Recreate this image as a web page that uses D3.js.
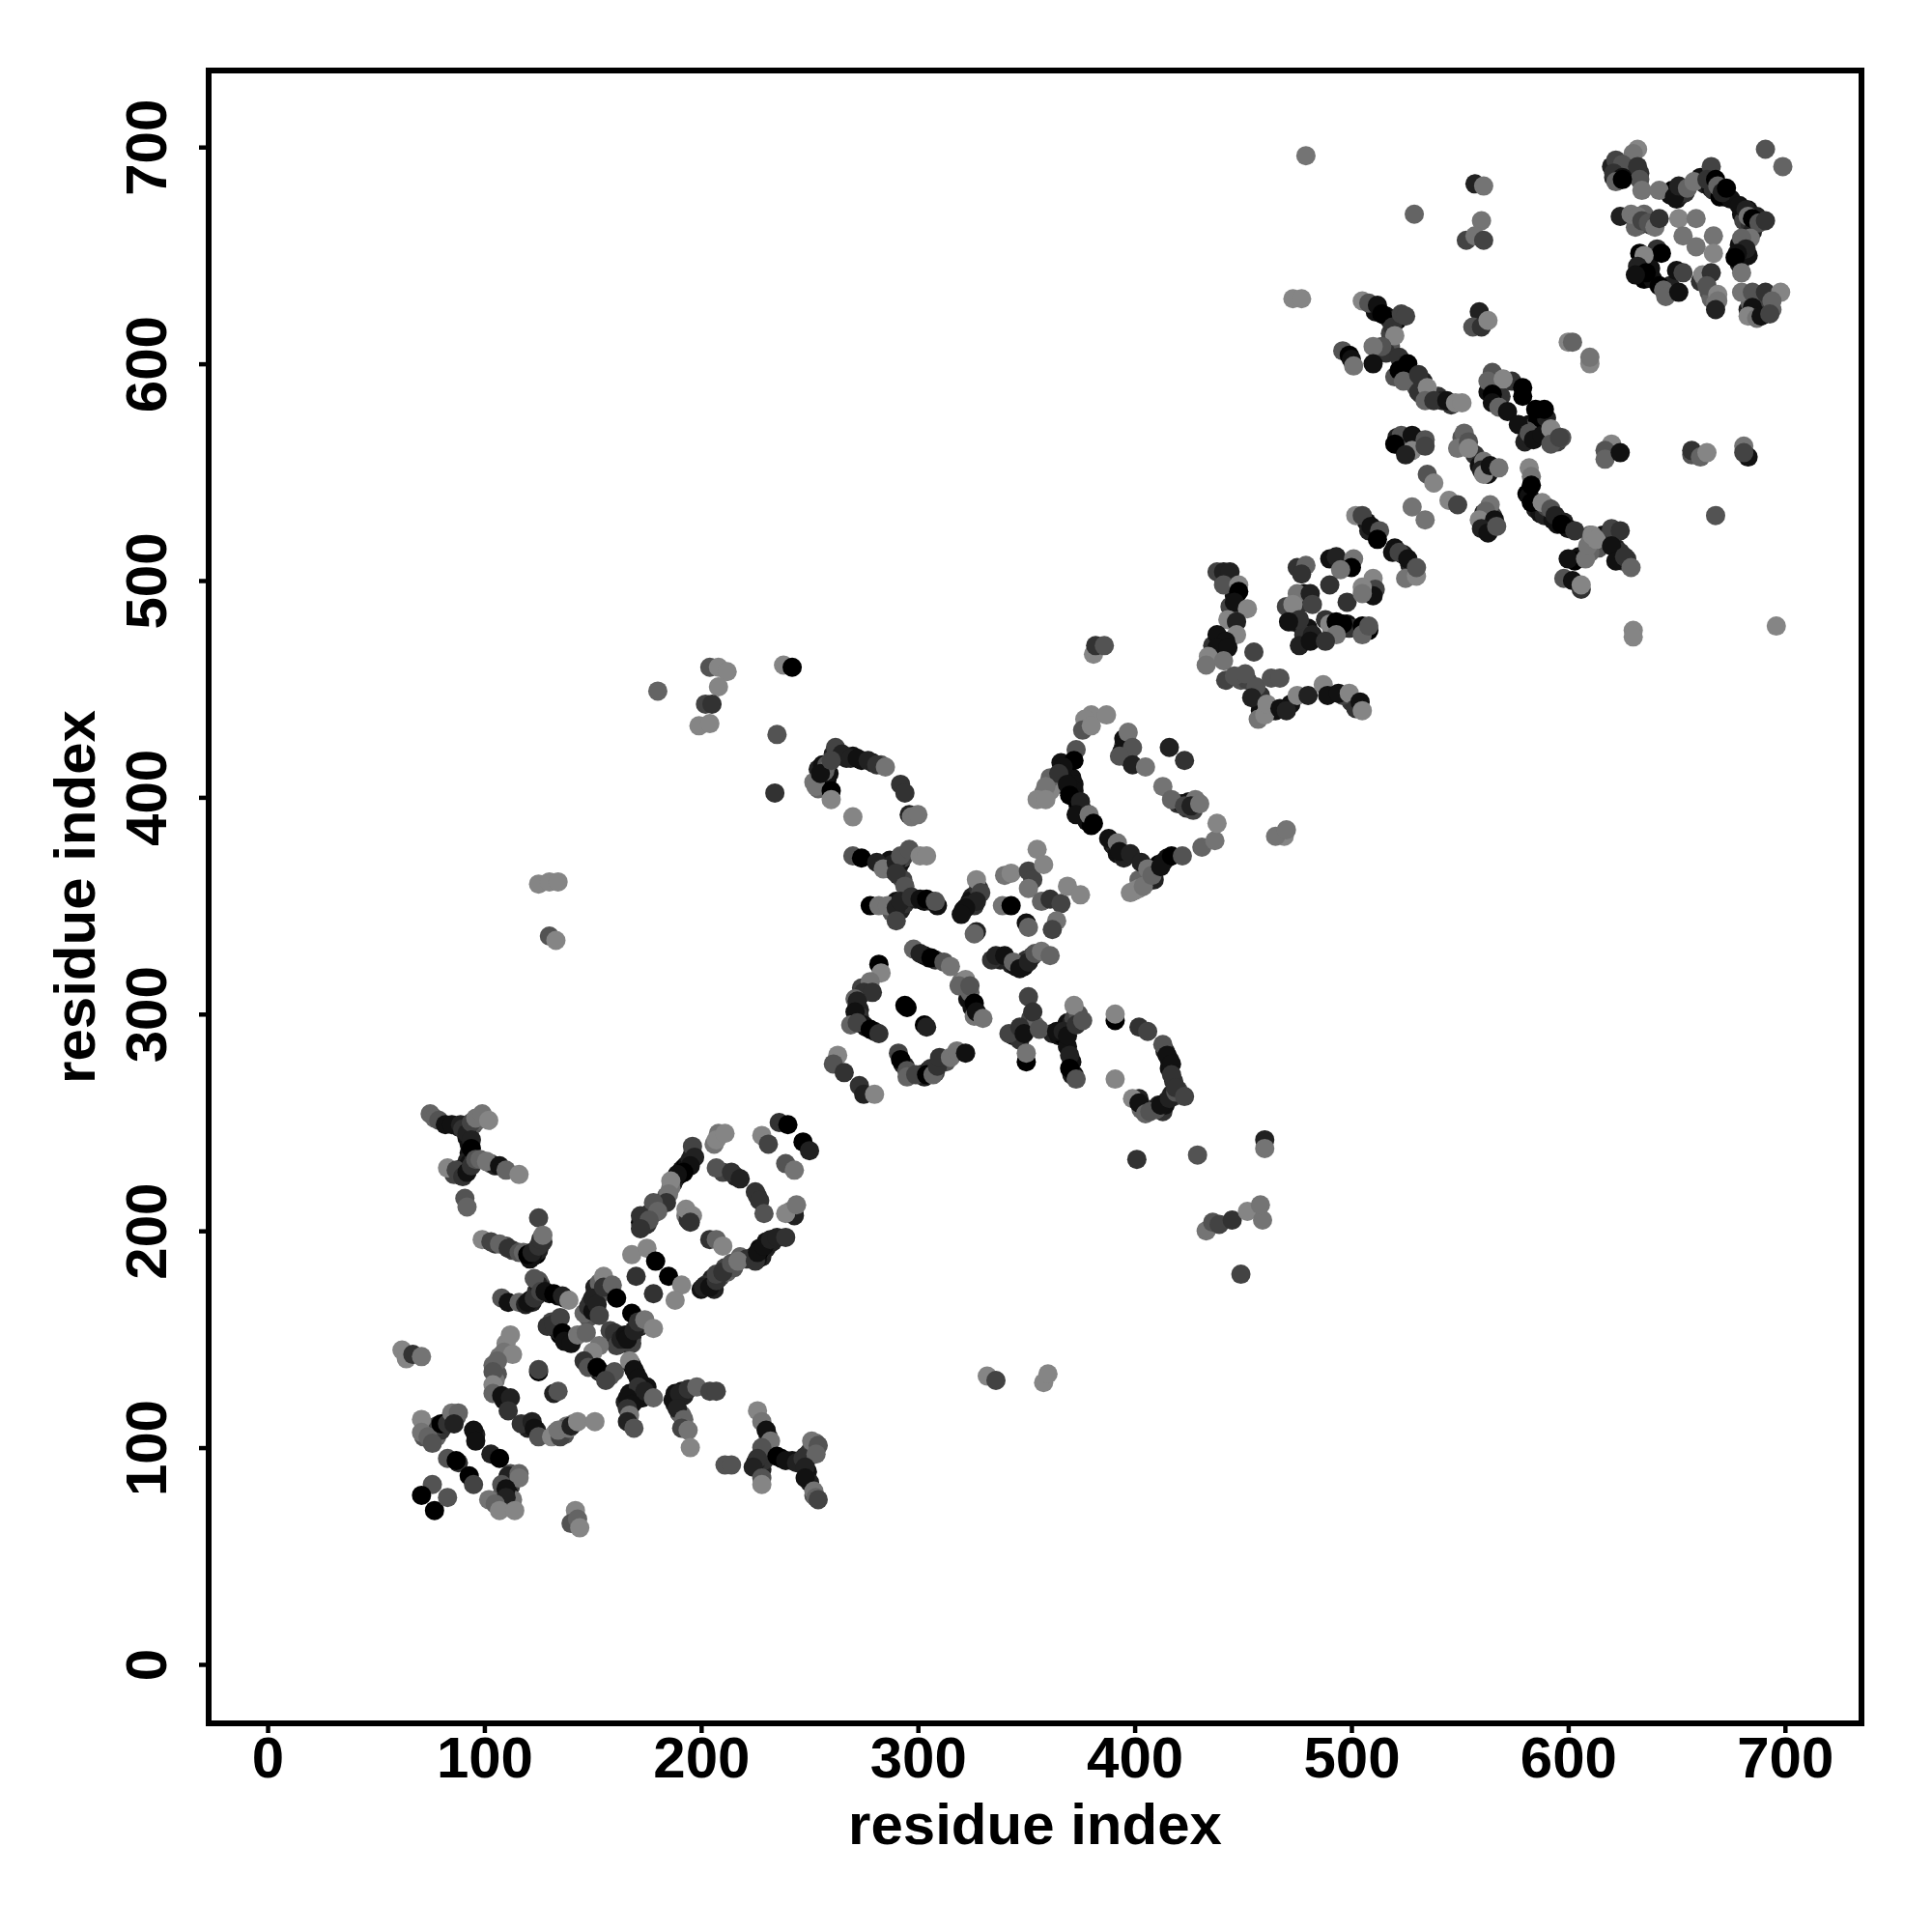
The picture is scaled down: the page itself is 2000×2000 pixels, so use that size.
<!DOCTYPE html>
<html><head><meta charset="utf-8">
<script src="https://cdn.jsdelivr.net/npm/d3@7"></script>
<style>html,body{margin:0;padding:0;background:#fff}svg{display:block}text{font-family:"Liberation Sans",Arial,sans-serif;font-weight:700;fill:#000}</style>
</head><body><svg id="c" width="2000" height="2000"></svg>
<script>
const tickValues=[0,100,200,300,400,500,600,700];
const axisTitle="residue index";
// each entry: [residue i, residue j, grey level of the contact 0..8]
const blockLowLeft=[[71,113,8],[71,107,7],[74,105,6],[76,102,5],[80,111,0],[83,111,3],[85,116,7],[88,116,6],[86,111,2],[95,108,1],[96,103,1],[103,97,2],[107,95,0],[83,95,5],[87,94,0],[93,87,0],[95,83,4],[111,87,2],[116,88,6],[116,86,7],[108,83,5],[110,81,1],[110,77,2],[102,76,7],[105,74,6],[107,71,8],[114,71,8],[76,83,5],[71,78,0],[77,71,0],[83,77,5]];
const armLow=[[125,135,0],[125,136,4],[132,125,2],[134,126,5],[112,152,8],[109,144,7],[113,143,8],[106,140,6],[104,135,5],[104,129,8],[104,125,6],[108,124,1],[112,123,2],[111,117,3],[117,111,3],[122,112,2],[123,109,1],[125,105,5],[131,105,8],[135,105,4],[134,108,7],[139,109,7],[140,110,2],[143,112,8],[151,112,8]];
const strays1=[[62,145,8],[64,141,8],[67,143,3],[71,142,7],[142,71,8],[140,65,5],[143,67,6],[144,63,8],[91,215,5],[92,211,6]];
const armY=[[75,254,6],[77,252,6],[79,251,5],[82,249,1],[85,249,1],[89,249,2],[90,247,3],[92,245,2],[94,250,4],[96,252,7],[99,254,7],[102,251,8],[94,242,2],[94,238,0],[83,229,8],[87,228,4],[90,225,3],[92,227,1],[94,230,3],[96,233,5],[98,233,6],[101,232,7],[107,230,1],[110,228,6],[116,226,8]];
const armL=[[99,196,8],[103,195,4],[107,194,6],[111,192,3],[116,190,5],[118,190,6],[121,187,1],[120,189,0],[122,190,2],[125,193,3],[126,196,3],[125,206,4],[127,198,7]];
const centre=[[108,169,5],[111,167,1],[116,167,6],[119,166,2],[120,167,1],[123,169,3],[125,175,2],[123,178,5],[126,172,4],[128,172,1],[132,171,0],[136,170,2],[139,168,8],[129,156,3],[132,157,3],[135,160,4],[136,153,0],[137,149,1],[140,148,1],[143,152,7],[147,153,6],[146,162,6],[148,165,3],[150,163,1],[150,169,2],[152,166,2],[155,179,8],[155,174,3],[159,175,6],[153,161,4],[161,169,0],[168,189,8],[175,192,8],[179,186,0],[170,179,3],[185,179,0],[191,175,8],[178,171,3],[188,168,8],[168,162,0],[158,154,4],[160,153,3],[161,147,4],[163,150,2],[165,152,1],[166,150,1],[169,154,2],[171,158,3],[174,159,7],[178,155,8],[153,147,7],[150,144,8],[146,140,3],[148,137,5],[152,137,0],[160,135,5],[156,131,4],[167,140,8],[169,136,1],[171,132,1],[171,128,3],[174,126,2],[166,123,1],[168,120,1],[166,118,3],[167,115,7],[166,112,2],[169,109,5],[178,123,6]];
const armRight=[[187,122,1],[190,125,2],[194,127,3],[198,128,6],[204,126,4],[207,126,4],[189,118,2],[192,113,6],[191,109,4],[194,108,7],[195,100,8],[226,117,8],[228,112,7],[230,108,1],[232,103,7],[228,100,5],[226,95,3],[224,91,2],[228,86,5],[228,83,8],[235,96,0],[239,94,1],[244,93,2],[247,95,3],[251,103,7],[254,101,5],[253,97,6],[248,91,2],[248,86,1],[252,80,7],[253,77,6],[254,76,4],[211,92,5],[214,92,5]];
const dLoop=[[196,239,4],[197,234,2],[195,230,1],[192,227,0],[189,226,1],[186,223,8],[185,217,7],[184,213,3],[178,213,5],[180,209,6],[172,207,3],[176,205,5],[172,201,3],[193,210,8],[196,207,8],[195,204,3],[207,242,8],[211,245,8],[207,229,5],[214,227,3],[218,224,2],[225,218,3],[227,214,3],[229,208,5],[243,207,2],[239,208,8],[244,212,7],[228,244,8],[231,240,4],[236,250,3],[240,249,0],[247,241,0],[250,237,2],[239,231,5],[243,228,7],[204,196,3],[207,196,6],[210,193,8],[200,173,1],[201,174,2],[204,174,1],[207,177,3],[207,180,4],[210,181,3],[214,185,5],[217,186,7],[225,186,3],[226,190,1],[229,193,1],[232,196,2],[235,197,2],[239,197,3]];
const arcTop=[[235,429,5],[234,402,3],[262,423,4],[265,420,2],[269,418,2],[272,418,1],[277,417,2],[281,415,3],[285,414,7],[292,406,3],[294,402,3],[258,415,5],[257,412,6],[252,407,7],[253,405,7],[255,411,1],[260,417,4],[260,403,0],[260,399,8],[270,391,8],[296,392,2],[297,391,7],[300,392,7]];
const crossMid=[[270,373,5],[274,372,0],[281,370,2],[284,367,7],[290,370,2],[292,373,5],[296,376,5],[301,373,8],[304,373,8],[290,365,3],[294,359,5],[278,350,0],[282,350,7],[286,350,7],[290,349,2],[292,352,2],[290,343,4],[297,354,3],[301,353,1],[304,353,0],[309,350,1],[308,352,5],[327,362,8],[329,356,4],[327,352,2],[322,349,1],[320,346,1],[327,338,2],[326,337,6],[340,364,7],[343,365,8],[351,366,4],[353,362,4],[351,358,7],[355,376,8],[358,369,8],[339,350,7],[343,350,0],[350,342,1],[351,340,6],[357,352,6],[361,353,3],[366,351,4],[364,343,7],[362,339,4],[369,359,8],[375,355,8],[334,325,3],[336,327,2],[340,327,1],[344,324,6],[347,321,1],[351,324,2],[354,328,5],[357,329,7],[361,327,6],[298,330,6],[301,328,2],[306,326,0],[312,324,5],[315,322,7],[322,316,8],[319,313,6],[324,313,5],[326,305,0],[327,301,1],[330,298,7]];
const loopLow=[[282,323,0],[283,319,8],[278,315,7],[275,310,3],[279,310,3],[271,307,6],[272,306,2],[271,301,1],[269,295,6],[272,296,4],[278,293,0],[282,291,3],[294,304,0],[295,303,0],[303,295,0],[304,294,2],[263,281,8],[261,277,5],[266,273,3],[273,267,3],[275,263,2],[280,263,8],[291,282,4],[292,279,0],[295,274,5],[295,271,6],[299,272,4],[304,272,0],[307,272,6],[309,276,3],[310,280,3],[315,280,7],[318,283,7],[322,282,1]];
const crossLow=[[342,291,4],[347,294,3],[349,291,1],[351,308,4],[353,301,3],[356,293,5],[350,278,0],[350,282,7],[364,292,1],[367,292,2],[369,290,1],[372,304,8],[373,295,3],[376,297,5],[370,281,2],[370,275,0],[373,270,5],[391,297,0],[391,300,8],[391,270,8],[402,294,3],[406,292,4],[413,286,5],[415,281,1],[417,277,1],[417,272,3],[399,261,8],[402,259,1],[405,254,6],[407,255,5],[412,258,1],[416,261,2],[419,264,5],[419,266,3],[423,262,4],[401,233,3],[429,235,5],[449,180,4],[460,242,2],[460,238,7],[433,200,7],[436,204,5],[439,203,4],[445,205,3],[452,209,8],[459,205,7],[458,212,7],[332,133,8],[336,131,4],[358,130,8],[360,134,8]];
const strays2=[[125,360,8],[130,361,8],[134,361,8],[130,336,5],[133,334,8],[180,449,6],[204,460,5],[208,460,8],[212,458,8],[208,451,8],[202,443,4],[205,443,3],[199,433,8],[204,434,8],[238,461,8],[242,460,0]];
const bigLoop=[[380,438,8],[377,436,8],[387,438,8],[376,431,5],[380,433,8],[373,422,5],[372,417,0],[367,414,1],[365,411,3],[359,405,7],[355,399,8],[359,399,8],[369,406,1],[370,401,0],[375,398,2],[373,392,1],[379,392,7],[381,388,0],[388,381,1],[392,379,7],[393,375,1],[398,374,2],[403,370,2],[406,367,7],[398,356,8],[404,359,7],[408,364,6],[412,368,1],[417,373,0],[422,373,5],[431,377,6],[437,380,7],[438,388,8],[395,427,1],[397,430,7],[399,423,5],[393,419,5],[399,415,2],[405,414,7],[413,405,7],[417,399,6],[423,396,4],[426,396,2],[430,397,7],[416,423,2],[423,417,3],[469,382,8],[465,382,7],[470,385,7],[381,466,8],[382,470,3],[386,470,5]];
const uShape=[[438,504,4],[441,504,2],[444,504,2],[441,498,5],[448,498,8],[448,495,0],[446,490,1],[452,487,8],[443,482,8],[447,481,2],[447,475,8],[438,475,1],[442,472,1],[438,469,1],[443,469,1],[434,465,8],[433,461,7],[441,463,7],[455,467,4],[442,454,4],[446,456,5],[451,457,5],[456,451,5],[454,446,2],[457,436,7],[460,438,8],[461,443,8],[463,455,5],[467,455,5],[467,441,1],[470,440,2],[475,447,8],[480,447,2],[487,452,8],[489,447,1],[494,448,1],[499,448,8],[502,441,3],[504,444,1],[505,440,8]];
const diamond=[[475,506,3],[479,507,6],[477,503,3],[475,494,7],[481,494,2],[482,489,4],[470,488,4],[473,489,8],[476,482,3],[471,481,1],[482,475,2],[481,472,1],[490,510,1],[493,511,2],[501,510,7],[500,506,0],[495,505,7],[490,498,3],[498,490,3],[510,501,8],[511,496,4],[510,493,1],[505,497,8],[505,494,7],[488,482,3],[490,480,8],[493,481,0],[496,480,0],[493,475,7],[488,472,3],[508,477,0],[505,475,6],[508,479,5],[502,530,8],[505,530,4],[509,525,1],[513,523,5],[512,519,0],[519,513,1],[522,513,4],[526,510,1],[525,501,7],[530,502,8],[530,506,5]];
const crossHigh=[[473,630,8],[477,630,8],[505,629,8],[508,628,5],[512,627,1],[514,623,0],[521,620,0],[519,617,3],[523,623,4],[525,622,4],[520,613,8],[514,608,5],[510,608,7],[510,600,1],[496,606,5],[499,604,0],[500,602,1],[501,599,7],[522,603,3],[526,600,0],[522,597,0],[524,592,6],[531,595,3],[531,587,3],[535,589,8],[534,583,6],[538,583,3],[544,583,1],[548,582,8],[551,582,8],[559,624,2],[556,617,5],[560,617,3],[563,620,8],[600,610,8],[602,610,6],[610,600,8],[610,603,7],[565,596,5],[563,592,6],[570,593,8],[565,586,0],[565,582,1],[568,580,6],[572,578,1],[579,589,0],[579,585,0],[585,579,0],[589,579,0],[577,572,1],[582,568,5],[584,565,1],[588,567,1],[592,570,8],[592,563,5],[596,566,4],[620,563,8],[617,560,5],[617,556,6],[624,559,1]];
const crossLowRight=[[582,552,8],[583,548,7],[583,544,0],[583,536,0],[588,536,8],[592,533,5],[594,530,2],[597,526,0],[603,523,3],[600,510,1],[608,510,7],[609,516,7],[611,521,8],[613,519,8],[620,524,4],[624,523,3],[620,516,1],[622,509,1],[626,511,3],[629,506,6],[598,501,5],[602,500,1],[606,496,3],[606,498,8],[630,477,8],[630,474,8],[523,567,5],[520,563,0],[528,567,1],[528,560,8],[525,558,2],[534,565,5],[534,562,4],[552,568,6],[549,561,7],[554,564,5],[554,561,8],[561,555,7],[560,551,2],[561,549,8],[564,553,1],[568,552,7],[535,549,5],[538,545,8],[528,534,7],[534,528,7],[545,537,8],[549,535,4],[564,535,7],[562,532,6],[559,528,8],[566,528,1],[560,524,2],[563,522,1],[567,525,5]];
const strays3=[[479,696,7],[529,669,6],[557,683,2],[561,682,7],[560,666,7],[553,657,4],[557,659,7],[561,657,4],[668,530,5],[696,479,8],[657,558,5],[657,560,3],[661,557,6],[664,559,8],[681,562,7],[683,557,1],[681,559,4]];
const blockTop=[[632,699,8],[630,697,7],[622,694,4],[625,692,5],[632,691,3],[621,688,3],[625,686,1],[633,685,5],[622,684,6],[625,685,0],[634,680,7],[642,680,7],[649,677,1],[651,682,2],[655,681,6],[658,684,7],[666,691,4],[664,685,3],[668,685,0],[669,682,6],[671,679,2],[673,681,0],[679,673,1],[682,671,2],[683,668,7],[685,667,0],[688,665,5],[691,666,3],[684,658,7],[680,658,6],[682,653,2],[678,651,1],[677,649,0],[680,642,7],[680,633,7],[624,668,2],[629,669,7],[632,668,7],[634,666,4],[637,665,5],[640,663,7],[642,667,3],[651,667,8],[659,667,7],[653,659,7],[659,654,7],[667,659,7],[667,651,8],[641,653,3],[643,651,0],[633,651,0],[635,650,8],[632,645,2],[636,642,0],[631,641,1],[642,636,0],[644,634,6],[645,631,6],[651,633,1],[650,643,1],[653,642,4],[662,641,8],[666,642,3],[664,636,5],[669,632,8],[669,629,7],[668,625,2],[685,633,5],[691,633,3],[698,633,8],[694,629,6],[685,626,1],[683,622,8],[687,621,7],[689,622,1],[693,623,4],[691,699,5],[699,691,6]];
// contacts hidden inside the thick clusters, read from the overlaps
const denseArmY=[[88,248,2],[91,248,1],[91,246,2],[92,243,1],[93,248,3],[93,245,4],[95,249,5],[97,251,6],[93,240,1],[93,236,1],[94,234,4],[92,232,2],[90,229,2],[89,226,1],[92,229,0],[93,231,1],[95,232,3],[88,226,3],[86,226,4],[103,231,6],[105,230,2],[124,191,1],[124,189,0],[125,191,2],[126,194,2],[127,195,3],[122,188,1],[113,191,4],[110,193,4],[105,194,3]];
const denseCentre=[[121,168,1],[122,167,2],[124,170,1],[124,172,3],[126,175,3],[125,177,5],[130,171,1],[134,170,1],[137,169,1],[131,158,4],[133,155,1],[135,152,0],[138,151,1],[139,150,0],[141,150,7],[134,154,2],[150,165,2],[149,167,3],[151,171,3],[151,174,2],[153,171,4],[153,176,6],[148,160,5],[157,172,5],[164,151,2],[167,152,1],[168,151,2],[170,155,3],[172,156,2],[173,157,4],[162,149,3],[165,148,3],[168,148,4],[160,150,2],[147,139,3],[150,138,1],[153,135,2],[155,134,4],[158,133,5],[168,138,1],[170,134,1],[172,130,2],[175,128,1],[170,122,2],[167,125,1],[165,121,2],[170,126,1],[173,123,1]];
const denseRight=[[188,125,1],[189,123,1],[191,126,1],[192,124,2],[193,126,2],[188,120,2],[190,116,4],[191,115,6],[192,110,5],[231,105,4],[229,98,4],[227,93,2],[226,91,3],[228,90,2],[229,94,3],[225,93,2],[237,95,0],[242,94,1],[246,94,2],[248,96,2],[250,98,3],[252,100,5],[250,96,4],[248,94,1],[249,89,1],[250,84,2],[252,78,5],[253,102,6],[253,99,5]];
const denseLowLeft=[[73,109,6],[76,107,7],[78,105,6],[80,108,3],[84,113,4],[87,114,5],[72,105,5],[78,110,4],[112,84,3],[112,82,4],[111,79,1],[108,78,6],[113,76,7],[110,73,7],[106,76,6],[112,88,5],[88,93,3],[96,106,2],[107,142,7],[110,148,8],[104,138,6],[106,134,5],[105,131,7],[109,122,1],[120,109,2],[122,110,1],[124,108,2],[133,107,6],[137,106,5],[138,110,7],[141,111,7],[136,108,3]];
const denseD=[[188,224,1],[190,226,0],[191,228,1],[192,229,1],[193,230,0],[194,231,1],[195,233,2],[196,235,2],[187,222,2],[186,220,7],[184,216,6],[182,213,4],[180,211,3],[176,208,2],[174,206,3],[172,204,1],[173,202,5],[175,203,3],[178,208,5],[193,207,7],[194,208,6],[194,205,3],[208,245,7],[206,240,7],[210,227,4],[216,225,2],[226,216,3],[241,209,8],[243,210,6],[228,190,1],[227,192,1],[228,188,2],[230,192,2],[231,194,2],[233,195,2],[230,195,1],[226,187,1],[227,191,0],[224,188,2],[208,178,3],[205,176,2],[203,175,1],[206,173,2],[209,179,4],[211,183,4],[212,181,6],[215,183,5],[218,188,6],[221,187,3],[205,178,2],[202,175,3]];
const denseArc=[[256,413,2],[255,409,3],[257,410,1],[258,408,2],[254,404,6],[254,413,2],[256,415,1],[258,409,0],[259,411,1],[261,420,2],[263,419,1],[267,418,2],[270,419,1],[274,417,1],[279,416,2],[283,415,5]];
const denseMid=[[287,371,1],[288,369,2],[290,367,1],[291,368,3],[292,370,1],[293,372,4],[289,366,0],[291,364,2],[293,362,4],[289,350,2],[290,352,1],[291,350,1],[293,350,3],[292,348,2],[294,351,3],[295,354,4],[299,353,2],[303,352,1],[306,352,2],[288,347,5],[325,354,2],[324,352,1],[323,350,2],[321,348,1],[326,350,3],[328,358,3],[343,323,2],[345,322,1],[346,323,1],[348,323,2],[349,322,1],[350,325,3],[352,326,3],[353,327,4],[338,325,2],[303,327,1],[305,326,1],[308,325,3],[320,315,7],[323,307,1],[325,303,1],[326,299,7],[324,310,6]];
const denseLoop=[[272,304,1],[273,302,2],[273,299,3],[275,295,1],[276,294,1],[280,292,2],[274,312,4],[277,312,4],[293,277,1],[294,276,2],[296,272,4],[301,272,1],[303,271,2],[305,274,1],[306,275,3],[308,273,4],[313,278,5],[344,290,1],[346,290,2],[347,288,3],[350,294,5],[352,298,4],[354,295,6],[362,291,2],[365,290,1],[367,290,0],[368,294,2],[369,296,1],[371,296,2],[372,298,4],[374,300,5],[369,285,1],[371,278,1],[371,272,2],[372,272,1],[413,255,3],[414,258,1],[415,260,1],[417,263,2],[418,262,4],[414,283,2],[416,279,2],[416,275,1],[418,269,3],[420,265,4],[408,256,3],[404,257,4],[403,256,6],[410,256,5],[411,258,2],[402,261,2]];
const denseBigLoop=[[366,416,1],[368,413,2],[369,411,1],[367,409,2],[365,407,3],[371,409,1],[372,406,1],[372,403,1],[372,400,1],[374,396,0],[376,394,0],[377,392,1],[378,389,1],[380,387,0],[390,378,1],[391,377,2],[392,374,1],[395,372,2],[408,366,1],[409,367,2],[411,369,0],[413,370,1],[415,372,1],[406,361,7],[402,362,6],[402,358,8],[400,357,8],[409,362,2],[396,427,1],[395,424,3],[396,422,2],[394,421,1],[397,418,4],[420,397,3],[422,397,1],[424,395,3],[425,398,1],[427,394,4],[428,399,7],[366,406,3],[362,405,7],[361,403,8],[361,409,6],[358,402,7]];
const denseU=[[441,501,3],[443,500,2],[446,493,1],[447,489,1],[444,488,4],[439,473,1],[441,471,1],[436,470,3],[440,467,4],[458,440,1],[463,440,2],[465,440,1],[470,441,1],[472,443,1],[449,454,5],[452,454,4],[458,447,3],[500,444,3],[502,443,3],[504,441,1],[496,447,4],[478,492,2],[478,494,1],[479,490,3],[474,485,3],[473,481,2],[477,479,1],[480,478,1],[478,475,3],[476,470,2],[510,524,3],[507,527,1],[511,523,1],[508,523,2],[520,515,1],[524,512,2],[527,507,2],[528,505,3],[508,496,0],[509,497,3],[491,478,2],[494,477,2],[498,480,1],[499,478,3],[503,478,3],[505,479,0]];
const denseHigh=[[511,624,1],[516,622,1],[518,620,2],[518,614,4],[518,608,5],[516,605,3],[523,598,1],[525,596,0],[527,594,2],[529,592,3],[530,589,5],[532,586,4],[533,592,2],[520,594,5],[540,585,3],[542,583,2],[546,581,3],[566,590,1],[569,585,3],[563,587,1],[574,592,3],[582,572,1],[584,571,3],[586,574,0],[590,575,2],[594,567,3],[581,569,5],[580,564,2],[595,564,4],[597,566,5],[610,521,6],[521,566,2],[524,561,3],[526,562,0],[530,564,2],[551,566,5],[552,563,3],[557,558,3],[559,553,1],[563,549,1],[581,540,0],[582,539,1],[585,533,2],[587,531,1],[589,530,2],[590,534,4],[593,528,1],[595,526,1],[598,527,2],[600,524,1],[616,521,1],[618,518,1],[622,515,2],[624,513,3],[625,509,3],[627,510,3],[618,520,3],[612,517,7],[614,515,5],[610,513,6],[605,511,1],[603,509,0],[561,531,2],[564,528,1],[563,526,3],[565,530,4]];
const denseTop=[[620,691,2],[623,689,1],[627,689,3],[629,693,3],[630,688,1],[633,688,3],[621,686,2],[647,678,1],[648,680,0],[650,676,1],[652,678,2],[654,679,3],[661,686,1],[663,683,2],[665,683,1],[666,681,1],[667,680,3],[672,677,2],[670,677,0],[675,676,1],[680,669,1],[681,666,4],[683,671,1],[687,668,2],[684,664,3],[685,661,2],[679,655,1],[681,651,3],[679,646,2],[683,650,1],[633,664,5],[635,669,6],[638,664,3],[631,663,6],[636,648,1],[638,644,1],[635,639,0],[639,639,1],[646,634,2],[647,636,2],[661,638,3],[663,639,5],[665,633,5],[666,630,6],[668,628,7],[683,625,2],[686,623,1],[690,625,3],[691,626,5],[694,625,6],[684,628,6],[687,630,2],[689,630,4]];

const allPoints=[].concat(denseArmY,denseCentre,denseRight,denseLowLeft,denseD,denseArc,denseMid,denseLoop,denseBigLoop,denseU,denseHigh,denseTop,blockLowLeft,armLow,strays1,armY,armL,centre,armRight,dLoop,arcTop,crossMid,loopLow,crossLow,strays2,bigLoop,uShape,diamond,crossHigh,crossLowRight,strays3,blockTop);

const svg=d3.select("#c");
const box={l:216,r:1927,t:73,b:1784};
const x=d3.scaleLinear().domain([-27.2,735.3]).range([box.l,box.r]);
const y=d3.scaleLinear().domain([-27.2,735.3]).range([box.b,box.t]);
const grey=d3.scaleLinear().domain([0,8]).range(["#000000","#858585"]);

svg.append("g").selectAll("circle").data(allPoints).join("circle")
  .attr("cx",d=>x(d[0])).attr("cy",d=>y(d[1])).attr("r",10).attr("fill",d=>grey(d[2]));

svg.append("rect").attr("x",box.l).attr("y",box.t).attr("width",box.r-box.l).attr("height",box.b-box.t)
  .attr("fill","none").attr("stroke","#000").attr("stroke-width",6);

const gx=svg.append("g").attr("transform",`translate(0,${box.b})`)
  .call(d3.axisBottom(x).tickValues(tickValues).tickSize(10).tickPadding(8).tickFormat(d3.format("d")));
const gy=svg.append("g").attr("transform",`translate(${box.l},0)`)
  .call(d3.axisLeft(y).tickValues(tickValues).tickSize(10).tickFormat(d3.format("d")));
[gx,gy].forEach(g=>{g.select(".domain").remove();g.selectAll(".tick line").attr("stroke","#000").attr("stroke-width",4.5);g.selectAll("text").style("font-size","60px").attr("fill","#000");});
gx.selectAll(".tick text").attr("dy",null).attr("text-anchor","middle").attr("y",56);
gy.selectAll(".tick text").attr("x",null).attr("dy",null).attr("text-anchor","middle").attr("transform","translate(-44,0) rotate(-90)");

svg.append("text").attr("x",(box.l+box.r)/2).attr("y",1909).attr("text-anchor","middle").style("font-size","60px").text(axisTitle);
svg.append("text").attr("transform",`translate(98,${(box.t+box.b)/2}) rotate(-90)`).attr("text-anchor","middle").style("font-size","60px").text(axisTitle);
</script></body></html>
